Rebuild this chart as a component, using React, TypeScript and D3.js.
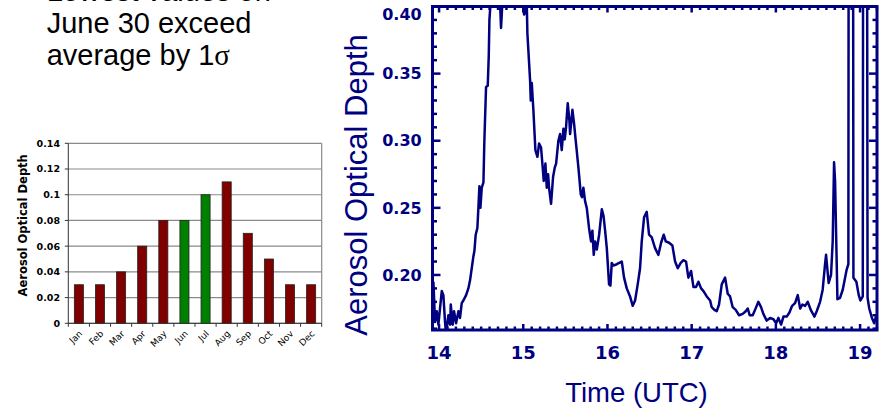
import React from "react";
import * as d3 from "d3";

// monthly climatology (left panel)
const MONTHS = ["Jan", "Feb", "Mar", "Apr", "May", "Jun", "Jul", "Aug", "Sep", "Oct", "Nov", "Dec"];
const MONTHLY_AOD = [0.03, 0.03, 0.04, 0.06, 0.08, 0.08, 0.1, 0.11, 0.07, 0.05, 0.03, 0.03];
const HIGHLIGHT = ["Jun", "Jul"];
const BAR_TICKS = [0, 0.02, 0.04, 0.06, 0.08, 0.1, 0.12, 0.14];
const BAR_TICK_LABELS = ["0", "0.02", "0.04", "0.06", "0.08", "0.1", "0.12", "0.14"];

// June 30 time series (right panel)
const TIME_UTC = [
  13.933, 13.952, 13.972, 13.992, 14.032, 14.051, 14.071, 14.083, 14.111, 14.131,
  14.139, 14.162, 14.178, 14.202, 14.23, 14.249, 14.269, 14.289, 14.321, 14.348,
  14.368, 14.388, 14.408, 14.42, 14.435, 14.455, 14.467, 14.479, 14.491, 14.507,
  14.527, 14.538, 14.558, 14.578, 14.59, 14.598, 14.614, 14.645, 14.705, 14.724,
  14.736, 14.752, 14.784, 14.883, 14.962, 14.994, 15.01, 15.021, 15.029, 15.041,
  15.049, 15.081, 15.089, 15.101, 15.12, 15.144, 15.168, 15.188, 15.211, 15.231,
  15.243, 15.263, 15.279, 15.295, 15.306, 15.33, 15.354, 15.374, 15.39, 15.417,
  15.437, 15.457, 15.477, 15.492, 15.508, 15.528, 15.548, 15.556, 15.584, 15.603,
  15.623, 15.655, 15.683, 15.698, 15.714, 15.734, 15.754, 15.781, 15.805, 15.821,
  15.837, 15.853, 15.873, 15.901, 15.933, 15.953, 15.972, 15.992, 16.019, 16.035,
  16.051, 16.071, 16.11, 16.17, 16.197, 16.229, 16.268, 16.3, 16.328, 16.359,
  16.387, 16.407, 16.435, 16.466, 16.494, 16.526, 16.565, 16.605, 16.637, 16.668,
  16.692, 16.732, 16.771, 16.803, 16.835, 16.87, 16.902, 16.933, 16.961, 16.993,
  17.021, 17.052, 17.08, 17.112, 17.14, 17.179, 17.219, 17.238, 17.27, 17.298,
  17.325, 17.357, 17.397, 17.428, 17.456, 17.487, 17.523, 17.563, 17.606, 17.642,
  17.666, 17.689, 17.725, 17.753, 17.792, 17.824, 17.851, 17.891, 17.931, 17.971,
  18.003, 18.03, 18.062, 18.09, 18.129, 18.161, 18.193, 18.228, 18.26, 18.288,
  18.315, 18.347, 18.378, 18.414, 18.458, 18.485, 18.525, 18.556, 18.584, 18.596,
  18.627, 18.655, 18.675, 18.691, 18.703, 18.731, 18.762, 18.794, 18.822, 18.841,
  18.861, 18.866, 18.915, 18.921, 18.956, 18.984, 19.004, 19.032, 19.038, 19.08,
  19.089, 19.109, 19.141, 19.168, 19.192,
];
const AOD = [
  0.195, 0.165, 0.173, 0.163, 0.188, 0.185, 0.165, 0.156, 0.17, 0.163,
  0.178, 0.163, 0.173, 0.164, 0.173, 0.168, 0.179, 0.181, 0.185, 0.19,
  0.196, 0.205, 0.214, 0.218, 0.23, 0.235, 0.25, 0.266, 0.25, 0.265,
  0.269, 0.3, 0.34, 0.341, 0.363, 0.39, 0.405, 0.42, 0.415, 0.403,
  0.384, 0.403, 0.42, 0.425, 0.415, 0.403, 0.394, 0.4, 0.395, 0.404,
  0.38, 0.345, 0.33, 0.343, 0.323, 0.293, 0.288, 0.298, 0.295, 0.28,
  0.27, 0.283, 0.265, 0.275, 0.265, 0.253, 0.273, 0.28, 0.283, 0.3,
  0.305, 0.293, 0.309, 0.301, 0.31, 0.328, 0.315, 0.305, 0.323, 0.313,
  0.3, 0.28, 0.26, 0.258, 0.265, 0.255, 0.25, 0.235, 0.225, 0.233,
  0.215, 0.225, 0.219, 0.23, 0.249, 0.244, 0.233, 0.22, 0.193, 0.192,
  0.209, 0.207, 0.208, 0.21, 0.198, 0.19, 0.184, 0.177, 0.181, 0.193,
  0.205, 0.225, 0.243, 0.247, 0.23, 0.228, 0.22, 0.215, 0.224, 0.23,
  0.225, 0.224, 0.222, 0.21, 0.205, 0.209, 0.211, 0.21, 0.198, 0.203,
  0.191, 0.191, 0.195, 0.19, 0.188, 0.184, 0.181, 0.176, 0.174, 0.173,
  0.178, 0.193, 0.198, 0.186, 0.184, 0.176, 0.174, 0.17, 0.171, 0.173,
  0.175, 0.17, 0.17, 0.174, 0.18, 0.176, 0.171, 0.166, 0.168, 0.167,
  0.164, 0.168, 0.163, 0.169, 0.169, 0.172, 0.177, 0.179, 0.185, 0.175,
  0.178, 0.177, 0.18, 0.174, 0.169, 0.173, 0.18, 0.189, 0.208, 0.215,
  0.194, 0.2, 0.225, 0.284, 0.27, 0.182, 0.183, 0.189, 0.198, 0.204,
  0.208, 0.6, 0.6, 0.198, 0.195, 0.185, 0.181, 0.184, 0.6, 0.6,
  0.183, 0.175, 0.168, 0.164, 0.17,
];
const TIME_TICKS = [14, 15, 16, 17, 18, 19];
const AOD_TICKS = [0.2, 0.25, 0.3, 0.35, 0.4];
const AOD_TICK_LABELS = ["0.20", "0.25", "0.30", "0.35", "0.40"];

const NAVY = "#000080";
const W = 888;
const H = 409;

const BarPanel = () => {
  const x = d3.scaleBand<string>().domain(MONTHS).range([68.3, 321.7]).paddingInner(0.57).paddingOuter(0.285);
  const y = d3.scaleLinear().domain([0, 0.14]).range([323.3, 143.3]);
  const step = x.step();
  const [x0, x1] = x.range();

  return (
    <g>
      {BAR_TICKS.map((t) => (
        <line key={`g${t}`} x1={x0} x2={x1} y1={y(t)} y2={y(t)} stroke="#8a8a8a" strokeWidth={1.2} />
      ))}
      <line x1={x1} x2={x1} y1={y(0.14)} y2={y(0)} stroke="#8a8a8a" strokeWidth={1.2} />
      {MONTHS.map((m, i) => (
        <rect
          key={m}
          x={x(m)}
          y={y(MONTHLY_AOD[i])}
          width={x.bandwidth()}
          height={y(0) - y(MONTHLY_AOD[i])}
          fill={HIGHLIGHT.includes(m) ? "#008000" : "#800000"}
          stroke="#222"
          strokeWidth={0.8}
        />
      ))}
      <line x1={x0} x2={x0} y1={y(0.14)} y2={y(0)} stroke="#333" strokeWidth={1} />
      <line x1={x0} x2={x1} y1={y(0)} y2={y(0)} stroke="#333" strokeWidth={1} />
      {BAR_TICKS.map((t, i) => (
        <g key={`t${t}`}>
          <line x1={x0 - 3.5} x2={x0} y1={y(t)} y2={y(t)} stroke="#333" strokeWidth={1} />
          <text x={60} y={y(t)} dy="0.36em" textAnchor="end" fontFamily="DejaVu Sans" fontWeight="bold" fontSize={9.5}>
            {BAR_TICK_LABELS[i]}
          </text>
        </g>
      ))}
      {d3.range(13).map((i) => (
        <line key={`b${i}`} x1={x0 + i * step} x2={x0 + i * step} y1={y(0)} y2={y(0) + 3.5} stroke="#333" strokeWidth={1} />
      ))}
      {MONTHS.map((m) => {
        const cx = (x(m) ?? 0) + x.bandwidth() / 2;
        return (
          <text
            key={`l${m}`}
            transform={`translate(${cx + 4},${y(0) + 11}) rotate(-45)`}
            textAnchor="end"
            fontFamily="DejaVu Sans"
            fontSize={9}
            fill="#000"
          >
            {m}
          </text>
        );
      })}
      <text
        transform={`translate(27,${(y(0) + y(0.14)) / 2 - 8}) rotate(-90)`}
        textAnchor="middle"
        fontFamily="DejaVu Sans"
        fontWeight="bold"
        fontSize={11.5}
      >
        Aerosol Optical Depth
      </text>
    </g>
  );
};

const SeriesPanel = () => {
  const x = d3.scaleLinear().domain([13.922, 19.201]).range([432.5, 877]);
  const y = d3.scaleLinear().domain([0.159, 0.4]).range([330, 6.5]);
  const [left, right] = x.range();
  const [bottom, top] = y.range();

  const line = d3
    .line<number>()
    .x((_, i) => x(TIME_UTC[i]))
    .y((d) => y(d));

  const minorY = d3.range(16, 41).map((v) => v / 100);
  const minorX = d3.range(140, 193).map((v) => v / 10);

  return (
    <g>
      <defs>
        <clipPath id="plot-clip">
          <rect x={left} y={top} width={right - left} height={bottom - top} />
        </clipPath>
      </defs>
      <path
        d={line(AOD) ?? ""}
        fill="none"
        stroke={NAVY}
        strokeWidth={2.5}
        strokeLinejoin="round"
        clipPath="url(#plot-clip)"
      />
      <g stroke={NAVY} strokeWidth={2.5}>
        {minorY.map((v) => {
          const len = AOD_TICKS.some((t) => Math.abs(t - v) < 1e-6) ? 8 : 4.5;
          return (
            <g key={`y${v}`}>
              <line x1={left} x2={left + len} y1={y(v)} y2={y(v)} />
              <line x1={right} x2={right - len} y1={y(v)} y2={y(v)} />
            </g>
          );
        })}
        {minorX.map((t) => {
          const len = TIME_TICKS.some((m) => Math.abs(m - t) < 1e-6) ? 6 : 3.5;
          return (
            <g key={`x${t}`}>
              <line x1={x(t)} x2={x(t)} y1={bottom} y2={bottom - len} />
              <line x1={x(t)} x2={x(t)} y1={top} y2={top + len} />
            </g>
          );
        })}
      </g>
      <rect x={left} y={top} width={right - left} height={bottom - top} fill="none" stroke={NAVY} strokeWidth={3} />
      {AOD_TICKS.map((v, i) => (
        <text
          key={`yl${v}`}
          x={421.7}
          y={Math.max(y(v), 14)}
          dy="0.36em"
          textAnchor="end"
          fontFamily="DejaVu Sans"
          fontWeight="bold"
          fontSize={16}
          fill={NAVY}
        >
          {AOD_TICK_LABELS[i]}
        </text>
      ))}
      {TIME_TICKS.map((t) => (
        <text
          key={`xl${t}`}
          x={x(t)}
          y={359.3}
          textAnchor="middle"
          fontFamily="DejaVu Sans"
          fontWeight="bold"
          fontSize={18}
          fill={NAVY}
        >
          {t}
        </text>
      ))}
      <text x={636.5} y={401.7} textAnchor="middle" fontFamily="Liberation Sans" fontSize={27.5} fill={NAVY}>
        Time (UTC)
      </text>
      <text
        transform="translate(367,185) rotate(-90)"
        textAnchor="middle"
        fontFamily="Liberation Sans"
        fontSize={31}
        fill={NAVY}
      >
        Aerosol Optical Depth
      </text>
    </g>
  );
};

export default function App() {
  return (
    <svg
      width={W}
      height={H}
      style={{ position: "absolute", left: 0, top: 0, background: "#fff" }}
    >
      <g fontFamily="Liberation Sans" fontSize={29} fill="#000">
        <text x={46.7} y={1.3}>Lowest values on</text>
        <text x={46.7} y={33.3}>June 30 exceed</text>
        <text x={46.7} y={65}>
          average by 1<tspan fontFamily="Liberation Serif">σ</tspan>
        </text>
      </g>
      <BarPanel />
      <SeriesPanel />
    </svg>
  );
}
